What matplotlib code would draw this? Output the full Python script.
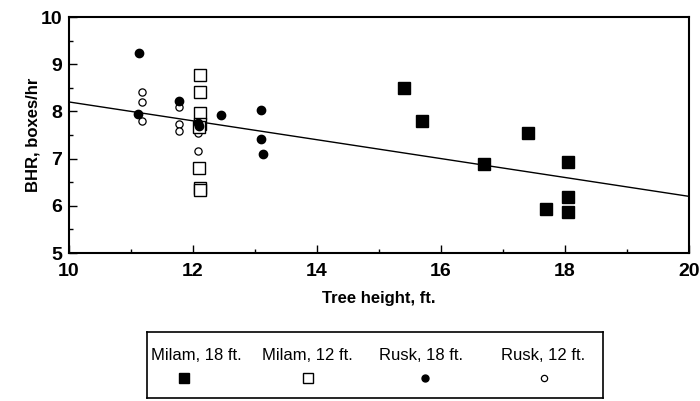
import matplotlib
matplotlib.use('Agg')
import matplotlib.pyplot as plt
from matplotlib.ticker import MultipleLocator

plt.rcParams['font.family'] = ['Liberation Sans', 'DejaVu Sans']

# Milam, 18 ft. (filled squares)
milam18_x = [15.4, 15.7, 16.7, 17.4, 18.05, 18.05, 17.7, 18.05]
milam18_y = [8.5, 7.8, 6.88, 7.54, 6.93, 6.18, 5.94, 5.86]

# Milam, 12 ft. (open squares)
milam12_x = [12.12, 12.12, 12.12, 12.12, 12.1, 12.12, 12.12, 12.1]
milam12_y = [8.77, 8.42, 7.96, 7.74, 6.81, 6.38, 6.33, 7.68]

# Rusk, 18 ft. (filled circles)
rusk18_x = [11.13, 11.77, 11.12, 12.45, 13.1, 13.1, 13.13, 12.08, 12.1]
rusk18_y = [9.23, 8.23, 7.94, 7.92, 8.03, 7.41, 7.10, 7.76, 7.7]

# Rusk, 12 ft. (open circles)
rusk12_x = [11.17, 11.17, 11.17, 11.78, 11.78, 11.78, 12.08, 12.08, 12.08]
rusk12_y = [8.42, 8.20, 7.79, 8.10, 7.74, 7.58, 7.54, 7.16, 7.65]

# regression line end points
fit_x = [10, 20]
fit_y = [8.2, 6.2]

labels = ['Milam, 18 ft.', 'Milam, 12 ft.', 'Rusk, 18 ft.', 'Rusk, 12 ft.']

fig = plt.figure(figsize=(7, 4.01), dpi=100)
ax = fig.add_axes([69 / 700, 1 - 253 / 401, 620 / 700, 236 / 401])

ax.plot(fit_x, fit_y, color='black', lw=1.0, zorder=1)
ax.plot(rusk12_x, rusk12_y, 'o', ms=5.2, mfc='white', mec='black', mew=0.9, zorder=2)
ax.plot(rusk18_x, rusk18_y, 'o', ms=6, mfc='black', mec='black', zorder=3)
ax.plot(milam12_x, milam12_y, 's', ms=8.5, mfc='white', mec='black', mew=1.0, zorder=2)
ax.plot(milam18_x, milam18_y, 's', ms=8.5, mfc='black', mec='black', zorder=3)

ax.set_xlim(10, 20)
ax.set_ylim(5, 10)
ax.xaxis.set_major_locator(MultipleLocator(2))
ax.xaxis.set_minor_locator(MultipleLocator(1))
ax.yaxis.set_major_locator(MultipleLocator(1))
ax.yaxis.set_minor_locator(MultipleLocator(0.5))
ax.tick_params(which='both', direction='in', top=False, right=False,
               labelsize=14, width=1)
ax.tick_params(axis='x', which='major', pad=7)
ax.tick_params(axis='y', which='major', pad=5)
ax.tick_params(which='major', length=6)
ax.tick_params(which='minor', length=3)
for lab in ax.get_xticklabels() + ax.get_yticklabels():
    lab.set_fontweight('bold')
for s in ax.spines.values():
    s.set_linewidth(1.5)

ax.set_xlabel('Tree height, ft.', fontsize=12, fontweight='bold', labelpad=8)
ax.set_ylabel('BHR, boxes/hr', fontsize=12, fontweight='bold', labelpad=0)

# legend box: text row above, markers below
lax = fig.add_axes([147 / 700, 1 - 398 / 401, 456 / 700, 66 / 401])
lax.set_xlim(0, 456)
lax.set_ylim(0, 66)
lax.set_xticks([])
lax.set_yticks([])
for s in lax.spines.values():
    s.set_linewidth(1.2)

text_x = [49, 160, 274, 396]
mark_x = [37, 161, 278, 397]
styles = [dict(marker='s', ms=6.5, mfc='black', mec='black'),
          dict(marker='s', ms=7.5, mfc='white', mec='black', mew=1.0),
          dict(marker='o', ms=5, mfc='black', mec='black'),
          dict(marker='o', ms=4.5, mfc='white', mec='black', mew=0.9)]
for tx, mx, lab, st in zip(text_x, mark_x, labels, styles):
    lax.text(tx, 43, lab, ha='center', va='center', fontsize=12)
    lax.plot([mx], [20], ls='none', **st)

fig.savefig('out.png', dpi=100)
